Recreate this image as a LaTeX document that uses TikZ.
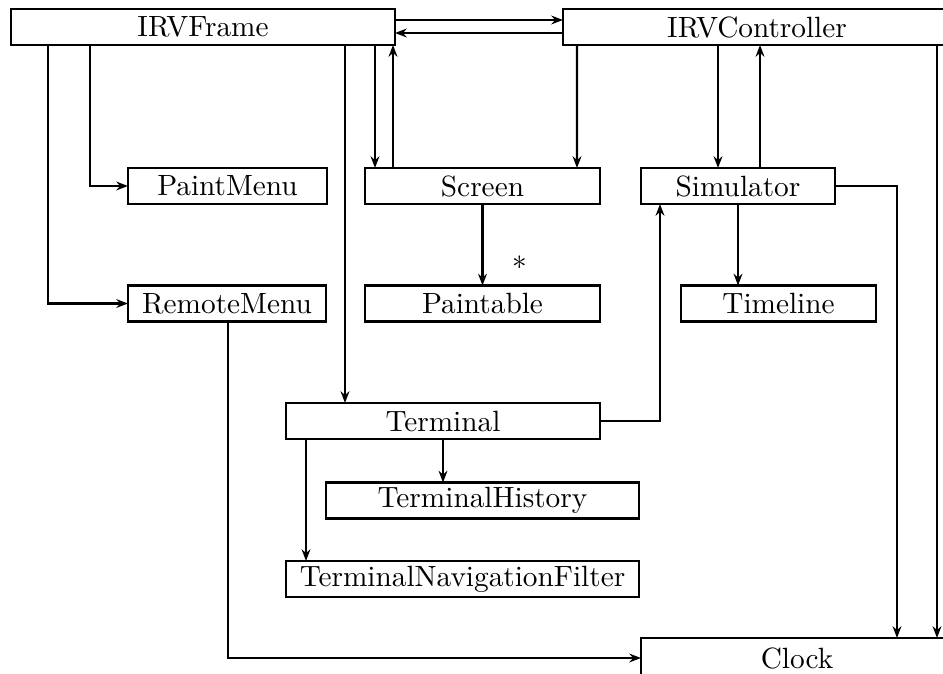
\documentclass[tikz,border=0pt]{standalone}
\usetikzlibrary{arrows.meta}
\newcommand{\px}{0.012cm}
\tikzset{
  classbox/.style={draw, line width=0.9pt, rectangle, inner sep=0pt, outer sep=0pt, minimum height=36*\px},
  link/.style={-{Stealth[length=4pt,width=3pt]}, line width=0.8pt},
}

\begin{document}
\begin{tikzpicture}[x=\px, y=-\px]
  \useasboundingbox (0,0) rectangle (943,674);
  \clip (0,0) rectangle (943,674);

  \node [classbox, minimum width=384*\px] (frame) at (203,27) {IRVFrame};
  \node [classbox, minimum width=388*\px] (ctrl) at (757,27) {IRVController};
  \node [classbox, minimum width=199*\px] (paintmenu) at (227.5,186) {PaintMenu};
  \node [classbox, minimum width=198*\px] (remotemenu) at (227,303.5) {RemoteMenu};
  \node [classbox, minimum width=235*\px] (screen) at (482.5,186) {Screen};
  \node [classbox, minimum width=235*\px] (paintable) at (482.5,303.5) {Paintable};
  \node [classbox, minimum width=194*\px] (simulator) at (738,186) {Simulator};
  \node [classbox, minimum width=195*\px] (timeline) at (778.5,303.5) {Timeline};
  \node [classbox, minimum width=314*\px] (terminal) at (443,421) {Terminal};
  \node [classbox, minimum width=313*\px] (history) at (482.5,500.5) {TerminalHistory};
  \node [classbox, minimum width=353*\px] (filter) at (462.5,579) {TerminalNavigationFilter};
  \node [classbox, minimum width=312*\px, minimum height=40*\px] (clock) at (797,658) {Clock};

  \draw [link] ([yshift=7*\px]frame.east) -- ([yshift=7*\px]ctrl.west);
  \draw [link] ([yshift=-6*\px]ctrl.west) -- ([yshift=-6*\px]frame.east);

  \draw [link] ([xshift=79*\px]frame.south west) |- (paintmenu.west);
  \draw [link] ([xshift=37*\px]frame.south west) |- (remotemenu.west);
  \draw [link] ([xshift=-50*\px]frame.south east) coordinate (fdown) -- (fdown |- terminal.north);
  \draw [link] ([xshift=-20*\px]frame.south east) -- ([xshift=10*\px]screen.north west);
  \draw [link] ([xshift=28*\px]screen.north west) -- ([xshift=-2*\px]frame.south east);

  \draw [link] ([xshift=14*\px]ctrl.south west) -- ([xshift=-23*\px]screen.north east);
  \draw [link] ([xshift=155*\px]ctrl.south west) -- ([xshift=77*\px]simulator.north west);
  \draw [link] ([xshift=119*\px]simulator.north west) -- ([xshift=197*\px]ctrl.south west);
  \draw [link] ([xshift=374*\px]ctrl.south west) -- ([xshift=296*\px]clock.north west);

  \draw [link] (screen.south) -- (paintable.north)
    node [pos=0.72, xshift=37*\px] {$*$};
  \draw [link] (simulator.south) -- (simulator.south |- timeline.north);
  \draw [link] (simulator.east) -| ([xshift=256*\px]clock.north west);

  \draw [link] (terminal.east) -| ([xshift=19*\px]simulator.south west);
  \draw [link] (terminal.south) -- (terminal.south |- history.north);
  \draw [link] ([xshift=20*\px]terminal.south west) -- ([xshift=20*\px]filter.north west);

  \draw [link] ([xshift=100*\px]remotemenu.south west) |- (clock.west);
\end{tikzpicture}
\end{document}
